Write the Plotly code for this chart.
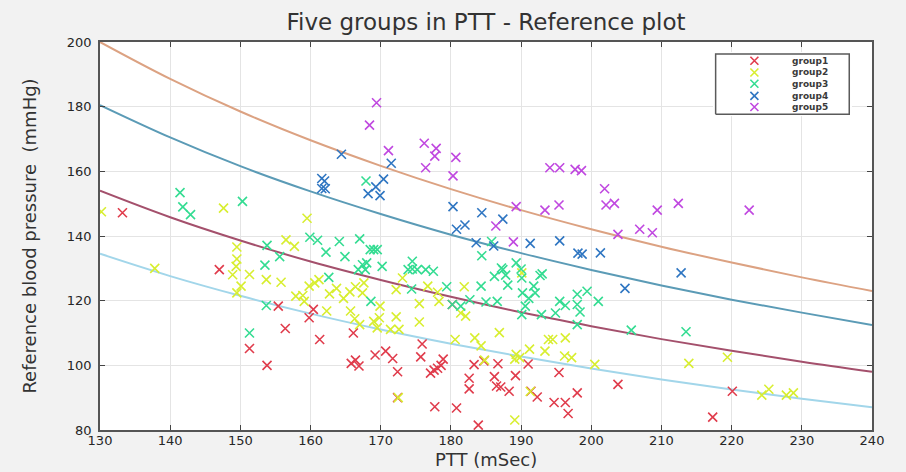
import plotly.graph_objects as go

# ---------------- data ----------------
x_ticks = [130, 140, 150, 160, 170, 180, 190, 200, 210, 220, 230, 240]
y_ticks = [80, 100, 120, 140, 160, 180, 200]

curve_x = [130, 140, 150, 160, 170, 180, 190, 200, 210, 220, 230, 240]
curve_top = [200.0, 188.6, 178.5, 169.6, 161.7, 154.5, 148.0, 142.1, 136.7, 131.8, 127.2, 123.0]
curve_second = [180.5, 170.5, 161.6, 153.8, 146.8, 140.4, 134.7, 129.5, 124.7, 120.3, 116.3, 112.5]
curve_third = [154.0, 145.8, 138.6, 132.1, 126.4, 121.2, 116.4, 112.1, 108.1, 104.5, 101.1, 98.0]
curve_fourth = [134.5, 127.6, 121.5, 116.0, 111.1, 106.7, 102.7, 99.0, 95.6, 92.5, 89.7, 87.0]

group1_x = [133.2, 147.0, 151.3, 153.8, 155.4, 156.4, 160.4, 159.8, 161.3, 166.1,
            165.8, 166.4, 166.9, 169.2, 170.7, 171.7, 172.4, 172.4, 175.9, 175.7,
            177.1, 177.6, 178.1, 178.6, 178.9, 177.7, 180.8, 180.2, 182.6, 182.6,
            183.3, 184.7, 183.9, 186.2, 186.5, 187.1, 186.7, 188.3, 189.2, 191.0,
            191.4, 192.3, 194.7, 196.3, 195.4, 196.7, 198.0, 203.8, 217.3, 220.1]
group1_y = [147.2, 129.6, 105.2, 100.0, 118.3, 111.4, 117.3, 114.7, 108.0, 110.0,
            100.6, 101.6, 99.8, 103.2, 104.4, 102.1, 98.0, 90.0, 106.6, 102.6,
            97.6, 98.5, 99.1, 100.0, 101.9, 87.2, 86.8, 118.8, 96.0, 92.7,
            100.2, 101.4, 81.5, 96.5, 93.6, 93.3, 100.5, 92.0, 96.8, 100.4,
            92.0, 90.2, 88.5, 88.5, 97.8, 85.1, 91.5, 94.1, 84.0, 92.0]

group2_x = [130.2, 137.8, 147.6, 148.9, 149.5, 149.4, 149.5, 150.1, 149.5, 151.3,
            153.7, 155.8, 156.5, 157.7, 157.9, 158.9, 159.1, 159.5, 159.8, 160.6,
            161.2, 162.3, 162.7, 163.7, 164.7, 165.7, 165.6, 166.3, 167.0, 166.4,
            167.6, 167.4, 169.0, 169.5, 169.8, 169.9, 171.4, 172.2, 172.2, 172.6,
            173.1, 175.5, 175.5, 176.7, 178.1, 178.3, 180.6, 181.4, 182.1, 181.9,
            183.4, 184.3, 186.9, 189.3, 189.8, 189.1, 189.1, 190.1, 191.2, 193.4,
            194.5, 193.9, 196.2, 197.2, 196.3, 200.5, 213.9, 219.4, 224.3, 225.3,
            227.8, 228.8, 172.5, 191.3, 184.8]
group2_y = [147.5, 130.0, 148.6, 128.0, 132.9, 130.6, 136.6, 124.5, 122.4, 128.1,
            126.5, 125.7, 138.8, 136.8, 121.4, 121.6, 119.8, 145.5, 124.5, 125.5,
            126.5, 116.8, 122.1, 123.8, 120.7, 116.8, 122.7, 114.4, 112.6, 124.3,
            125.5, 122.4, 113.6, 111.6, 114.7, 118.3, 111.1, 123.4, 115.0, 111.1,
            127.0, 119.1, 113.4, 124.5, 122.6, 119.8, 108.0, 116.2, 115.2, 124.3,
            108.5, 106.0, 110.1, 103.4, 102.4, 101.9, 83.1, 128.6, 105.0, 104.4,
            108.0, 108.0, 102.9, 102.4, 108.5, 100.3, 100.6, 102.5, 90.8, 92.6,
            90.8, 91.5, 90.0, 91.9, 101.6]

group3_x = [141.4, 141.8, 142.9, 150.3, 153.8, 153.5, 153.7, 151.3, 155.6, 159.9,
            161.0, 162.2, 164.1, 164.9, 162.6, 167.0, 167.9, 167.4, 168.0, 168.5,
            169.0, 169.5, 166.8, 167.8, 170.2, 168.6, 174.5, 174.5, 173.9, 175.2,
            176.4, 177.5, 174.4, 179.4, 180.2, 181.4, 182.7, 184.3, 184.4, 185.8,
            185.0, 186.6, 186.2, 187.4, 187.8, 187.2, 188.1, 189.3, 190.0, 190.1,
            190.2, 190.6, 190.1, 191.8, 192.7, 191.1, 192.0, 193.0, 192.9, 194.9,
            195.5, 196.3, 198.0, 198.0, 198.4, 198.0, 199.4, 201.0, 205.7, 213.5]
group3_y = [153.4, 149.0, 146.6, 150.7, 137.1, 131.0, 118.5, 110.0, 133.6, 139.6,
            138.7, 135.0, 138.3, 133.6, 127.2, 139.1, 157.0, 131.1, 131.7, 135.8,
            135.8, 135.8, 129.6, 129.6, 130.6, 119.8, 132.2, 129.8, 129.6, 129.6,
            129.6, 129.1, 123.6, 124.3, 118.8, 118.3, 120.3, 124.5, 133.9, 138.3,
            119.6, 119.8, 127.5, 129.6, 127.9, 130.1, 124.8, 131.7, 129.8, 127.0,
            122.4, 118.3, 115.7, 124.5, 127.8, 120.7, 122.4, 128.3, 115.7, 116.2,
            119.8, 118.5, 122.0, 118.8, 116.5, 112.6, 122.9, 119.8, 110.9, 110.4]

group4_x = [164.4, 161.6, 162.0, 161.6, 162.1, 168.2, 169.3, 170.4, 169.9, 171.5,
            180.3, 184.4, 187.4, 180.8, 182.0, 183.6, 186.1, 191.3, 195.5, 198.1,
            198.7, 201.3, 204.8, 212.8]
group4_y = [165.3, 157.8, 157.0, 154.7, 154.6, 153.1, 155.2, 157.6, 152.5, 162.5,
            149.1, 147.2, 145.2, 142.1, 143.4, 137.9, 136.9, 137.7, 138.5, 134.7,
            134.4, 134.8, 123.8, 128.6]

group5_x = [169.4, 168.4, 171.1, 176.2, 177.9, 177.7, 180.7, 176.4, 180.3, 186.4,
            189.3, 188.9, 193.4, 194.1, 195.5, 197.7, 198.6, 195.4, 201.9, 202.1,
            203.3, 203.8, 206.9, 208.7, 209.4, 212.4, 222.5]
group5_y = [181.2, 174.3, 166.4, 168.7, 167.1, 164.7, 164.3, 161.1, 158.6, 143.1,
            149.1, 138.2, 148.0, 161.1, 161.1, 160.6, 160.2, 149.6, 154.6, 149.6,
            150.1, 140.5, 142.1, 141.0, 148.0, 150.1, 148.0]

group_names = ["group1", "group2", "group3", "group4", "group5"]

# ---------------- styles ----------------
group_colors = ["#e03c4c", "#d8ee30", "#34dc92", "#2f76c2", "#c048e0"]
curve_colors = ["#dca282", "#5b9bb6", "#a4506c", "#a2d6ea"]
FONT = "DejaVu Sans"

groups = [(group1_x, group1_y), (group2_x, group2_y), (group3_x, group3_y),
          (group4_x, group4_y), (group5_x, group5_y)]
for gx, gy in groups:
    assert len(gx) == len(gy)

fig = go.Figure()

for cy, col in zip([curve_top, curve_second, curve_third, curve_fourth], curve_colors):
    fig.add_trace(go.Scatter(x=curve_x, y=cy, mode="lines",
                             line=dict(color=col, width=2, shape="spline", smoothing=1.0),
                             showlegend=False, hoverinfo="skip"))

for (gx, gy), col, name in zip(groups, group_colors, group_names):
    fig.add_trace(go.Scatter(x=gx, y=gy, mode="markers", name=name,
                             marker=dict(symbol="x-thin", size=9,
                                         line=dict(width=1.6, color=col)),
                             showlegend=False))

# ---------------- manual legend (own small axes) ----------------
leg_item_y = [0.886, 0.692, 0.505, 0.305, 0.12]
fig.add_trace(go.Scatter(x=[0, 1, 1, 0, 0], y=[0, 0, 1, 1, 0], mode="lines",
                         fill="toself", fillcolor="white",
                         line=dict(color="#5a5a5a", width=1.5),
                         xaxis="x2", yaxis="y2", showlegend=False, hoverinfo="skip"))
for yy, col in zip(leg_item_y, group_colors):
    fig.add_trace(go.Scatter(x=[0.29], y=[yy], mode="markers",
                             marker=dict(symbol="x-thin", size=8, line=dict(width=1.6, color=col)),
                             xaxis="x2", yaxis="y2", showlegend=False, hoverinfo="skip"))
annotations = []
for yy, name in zip(leg_item_y, group_names):
    annotations.append(dict(x=0.56, y=yy, xref="x2", yref="y2", text="<b>%s</b>" % name,
                            showarrow=False, xanchor="left", yanchor="middle",
                            font=dict(family=FONT, size=9, color="#3a3a3a")))

# x-axis title placed as text just below the tick labels
annotations.append(dict(x=0.5, y=-(459 - 430) / 388, xref="paper", yref="paper",
                        text="PTT (mSec)", showarrow=False, xanchor="center",
                        yanchor="middle", font=dict(family=FONT, size=18, color="#333333")))

axis_common = dict(ticks="inside", ticklen=5, tickcolor="#444444", tickwidth=1,
                   showline=True, linecolor="#555555", linewidth=1.5, mirror="ticks",
                   showgrid=True, gridcolor="#e4e4e4", gridwidth=1, zeroline=False,
                   automargin=False,
                   tickfont=dict(family=FONT, size=13, color="#262626"))

fig.update_layout(
    width=906, height=472,
    margin=dict(l=100, r=34, t=42, b=42),
    paper_bgcolor="#f2f2f2", plot_bgcolor="white",
    title=dict(text="Five groups in PTT - Reference plot", x=0.5, xref="paper",
               xanchor="center", y=1 - 22 / 472, yref="container", yanchor="middle",
               font=dict(family=FONT, size=23, color="#333333")),
    xaxis=dict(range=[130, 240], tickvals=x_ticks, ticklabelstandoff=-2, **axis_common),
    yaxis=dict(range=[80, 200], tickvals=y_ticks, ticklabelstandoff=4,
               title=dict(text="Reference blood pressure  (mmHg)", standoff=26,
                          font=dict(family=FONT, size=18, color="#333333")),
               **axis_common),
    xaxis2=dict(domain=[0.794, 0.974], anchor="y2", range=[-0.02, 1.02],
                visible=False, fixedrange=True),
    yaxis2=dict(domain=[0.809, 0.974], anchor="x2", range=[-0.03, 1.03],
                visible=False, fixedrange=True),
    annotations=annotations,
    showlegend=False,
)

fig.write_html("out.html", config={"displayModeBar": False},
               post_script="document.body.style.margin='0';document.body.style.background='#f2f2f2';")
